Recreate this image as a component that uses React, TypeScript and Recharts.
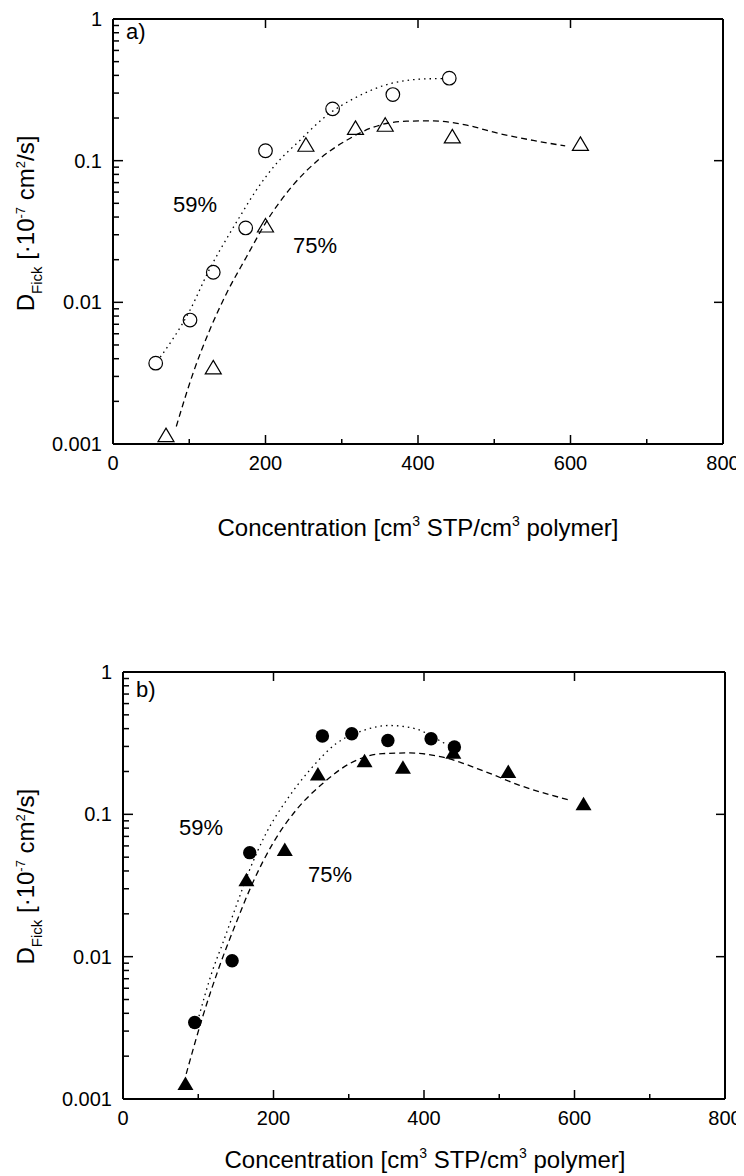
import React from 'react';
import { ComposedChart, Line, Scatter, XAxis, YAxis } from 'recharts';

const FONT = "Arial, 'Liberation Sans', Helvetica, sans-serif";

// ---------- axis ticks ----------
const xMajorTicks = [0, 200, 400, 600, 800];
const xAllTicks = [0, 100, 200, 300, 400, 500, 600, 700, 800];
const yMajorTicks = [0.001, 0.01, 0.1, 1];
const yAllTicks = [
  0.001, 0.002, 0.003, 0.004, 0.005, 0.006, 0.007, 0.008, 0.009,
  0.01, 0.02, 0.03, 0.04, 0.05, 0.06, 0.07, 0.08, 0.09,
  0.1, 0.2, 0.3, 0.4, 0.5, 0.6, 0.7, 0.8, 0.9, 1,
];
const yMajorLabels = ['0.001', '0.01', '0.1', '1'];
const xMajorLabels = ['0', '200', '400', '600', '800'];

// ---------- panel a (open symbols) ----------
const concA59 = [56, 101, 131.5, 174, 200, 288, 367, 441];
const diffA59 = [0.00372, 0.0075, 0.0163, 0.0335, 0.1175, 0.232, 0.293, 0.382];
const concA75 = [69.5, 131.5, 200, 253, 318, 357, 445, 613];
const diffA75 = [0.00116, 0.00349, 0.035, 0.13, 0.171, 0.18, 0.149, 0.132];

const fitConcA59 = [62, 100, 127, 153, 166, 188, 214, 245, 280, 315, 363, 402, 432];
const fitDiffA59 = [0.0041, 0.0086, 0.0173, 0.0306, 0.04, 0.062, 0.095, 0.139, 0.208, 0.273, 0.349, 0.376, 0.38];
const fitConcA75 = [83, 105, 127, 149, 175, 201, 236, 271, 306, 341, 385, 420, 464, 507, 551, 593];
const fitDiffA75 = [0.00133, 0.00316, 0.0064, 0.0116, 0.0209, 0.037, 0.067, 0.103, 0.139, 0.172, 0.19, 0.191, 0.178, 0.155, 0.139, 0.127];

// ---------- panel b (filled symbols) ----------
const concB59 = [95.3, 145, 168.4, 265, 304, 352, 409.4, 440.4];
const diffB59 = [0.00345, 0.00935, 0.0538, 0.355, 0.368, 0.33, 0.34, 0.297];
const concB75 = [83, 164, 215, 259, 321, 372, 439, 512, 612];
const diffB75 = [0.00129, 0.0348, 0.0568, 0.193, 0.239, 0.215, 0.274, 0.201, 0.119];

const fitConcB59 = [99, 119, 132.5, 150, 168, 190, 217, 248, 283, 319, 354, 389, 409, 425, 440];
const fitDiffB59 = [0.0035, 0.008, 0.0124, 0.0224, 0.0404, 0.0733, 0.125, 0.204, 0.313, 0.388, 0.421, 0.399, 0.358, 0.32, 0.295];
const fitConcB75 = [84, 106, 128, 150, 172, 199, 230, 265, 301, 345, 381, 425, 483, 527, 596];
const fitDiffB75 = [0.0015, 0.0038, 0.0085, 0.0171, 0.0327, 0.0623, 0.107, 0.164, 0.227, 0.267, 0.27, 0.252, 0.198, 0.16, 0.125];

const zip = (xs: number[], ys: number[]) => xs.map((x, i) => ({ x, y: ys[i] }));

// ---------- custom ticks ----------
const isMajorY = (v: number) => yMajorTicks.indexOf(v) >= 0;
const isMajorX = (v: number) => xMajorTicks.indexOf(v) >= 0;

const LeftTick = (p: any) => {
  const v = p.payload.value;
  const major = isMajorY(v);
  return (
    <g>
      <line x1={p.x} y1={p.y} x2={p.x + (major ? 10 : 6)} y2={p.y} stroke="#000" strokeWidth={1.5} />
      {major && (
        <text x={p.x - 11} y={p.y} dy="0.355em" textAnchor="end" fontSize={20} fontFamily={FONT} fill="#000">
          {yMajorLabels[yMajorTicks.indexOf(v)]}
        </text>
      )}
    </g>
  );
};
const RightTick = (p: any) => (
  <line x1={p.x} y1={p.y} x2={p.x - 9} y2={p.y} stroke="#000" strokeWidth={1.5} />
);
const BottomTick = (p: any) => {
  const v = p.payload.value;
  const major = isMajorX(v);
  return (
    <g>
      <line x1={p.x} y1={p.y} x2={p.x} y2={p.y - (major ? 9 : 5)} stroke="#000" strokeWidth={1.5} />
      {major && (
        <text x={p.x} y={p.y + 26} textAnchor="middle" fontSize={20} fontFamily={FONT} fill="#000">
          {xMajorLabels[xMajorTicks.indexOf(v)]}
        </text>
      )}
    </g>
  );
};
const TopTick = (p: any) => (
  <line x1={p.x} y1={p.y} x2={p.x} y2={p.y + 9} stroke="#000" strokeWidth={1.5} />
);

// ---------- markers ----------
const OpenCircle = (p: any) => (
  <circle cx={p.cx} cy={p.cy} r={6.8} fill="none" stroke="#000" strokeWidth={1.2} />
);
const FilledCircle = (p: any) => <circle cx={p.cx} cy={p.cy} r={6.7} fill="#000" />;
const triPts = (cx: number, cy: number) => {
  const w = 16;
  const h = 13.5;
  return `${cx},${cy - h / 2} ${cx + w / 2},${cy + h / 2} ${cx - w / 2},${cy + h / 2}`;
};
const OpenTriangle = (p: any) => (
  <polygon points={triPts(p.cx, p.cy)} fill="none" stroke="#000" strokeWidth={1.2} strokeLinejoin="miter" />
);
const FilledTriangle = (p: any) => <polygon points={triPts(p.cx, p.cy)} fill="#000" />;

type PanelProps = {
  margin: { top: number; right: number; bottom: number; left: number };
  pts59: { x: number; y: number }[];
  pts75: { x: number; y: number }[];
  fit59: { x: number; y: number }[];
  fit75: { x: number; y: number }[];
  shape59: any;
  shape75: any;
};

const AX = { stroke: '#000', strokeWidth: 2 };

const Panel = ({ margin, pts59, pts75, fit59, fit75, shape59, shape75 }: PanelProps) => (
  <ComposedChart width={736} height={560} margin={margin}>
    <XAxis
      xAxisId="b"
      dataKey="x"
      type="number"
      domain={[0, 800]}
      ticks={xAllTicks}
      interval={0}
      allowDataOverflow
      height={40}
      tickSize={0}
      tickMargin={0}
      axisLine={AX}
      tickLine={false}
      tick={<BottomTick />}
    />
    <XAxis
      xAxisId="t"
      orientation="top"
      dataKey="x"
      type="number"
      domain={[0, 800]}
      ticks={xMajorTicks}
      interval={0}
      allowDataOverflow
      height={10}
      tickSize={0}
      tickMargin={0}
      axisLine={AX}
      tickLine={false}
      tick={<TopTick />}
    />
    <YAxis
      yAxisId="l"
      dataKey="y"
      type="number"
      scale="log"
      domain={[0.001, 1]}
      ticks={yAllTicks}
      interval={0}
      allowDataOverflow
      width={60}
      tickSize={0}
      tickMargin={0}
      axisLine={AX}
      tickLine={false}
      tick={<LeftTick />}
    />
    <YAxis
      yAxisId="r"
      orientation="right"
      dataKey="y"
      type="number"
      scale="log"
      domain={[0.001, 1]}
      ticks={yMajorTicks}
      interval={0}
      allowDataOverflow
      width={10}
      tickSize={0}
      tickMargin={0}
      axisLine={AX}
      tickLine={false}
      tick={<RightTick />}
    />
    <Line
      xAxisId="b"
      yAxisId="l"
      data={fit59}
      dataKey="y"
      type="monotone"
      stroke="#000"
      strokeWidth={1.3}
      strokeDasharray="1.5 4"
      dot={false}
      activeDot={false}
      isAnimationActive={false}
    />
    <Line
      xAxisId="b"
      yAxisId="l"
      data={fit75}
      dataKey="y"
      type="monotone"
      stroke="#000"
      strokeWidth={1.3}
      strokeDasharray="6 4"
      dot={false}
      activeDot={false}
      isAnimationActive={false}
    />
    <Scatter xAxisId="b" yAxisId="l" data={pts59} dataKey="y" shape={shape59} isAnimationActive={false} />
    <Scatter xAxisId="b" yAxisId="l" data={pts75} dataKey="y" shape={shape75} isAnimationActive={false} />
    <Scatter xAxisId="t" yAxisId="r" data={pts59} dataKey="y" shape={() => null} isAnimationActive={false} />
  </ComposedChart>
);

const YTitle = ({ cx, cy }: { cx: number; cy: number }) => (
  <text transform={`translate(${cx},${cy}) rotate(-90)`} textAnchor="middle" fontSize={24} fontFamily={FONT} fill="#000">
    D
    <tspan dy={8} fontSize={15}>Fick</tspan>
    <tspan dy={-8}> [·10</tspan>
    <tspan dy={-9} fontSize={13}>-7</tspan>
    <tspan dy={9}> cm</tspan>
    <tspan dy={-9} fontSize={13}>2</tspan>
    <tspan dy={9}>/s]</tspan>
  </text>
);

const XTitle = ({ cx, y }: { cx: number; y: number }) => (
  <text x={cx} y={y} textAnchor="middle" fontSize={24} fontFamily={FONT} fill="#000">
    Concentration [cm
    <tspan dy={-10} fontSize={14}>3</tspan>
    <tspan dy={10}> STP/cm</tspan>
    <tspan dy={-10} fontSize={14}>3</tspan>
    <tspan dy={10}> polymer]</tspan>
  </text>
);

const T = (p: { x: number; y: number; s: string }) => (
  <text x={p.x} y={p.y} fontSize={22} fontFamily={FONT} fill="#000">
    {p.s}
  </text>
);

export default function App() {
  return (
    <div style={{ position: 'relative', width: 736, height: 1168, background: '#fff' }}>
      <div style={{ position: 'absolute', left: 0, top: 0 }}>
        <Panel
          margin={{ top: 1, right: 11, bottom: 84, left: 45 }}
          pts59={zip(concA59, diffA59)}
          pts75={zip(concA75, diffA75)}
          fit59={zip(fitConcA59, fitDiffA59)}
          fit75={zip(fitConcA75, fitDiffA75)}
          shape59={OpenCircle}
          shape75={OpenTriangle}
        />
      </div>
      <div style={{ position: 'absolute', left: 0, top: 600 }}>
        <Panel
          margin={{ top: 54, right: 9, bottom: 29, left: 55 }}
          pts59={zip(concB59, diffB59)}
          pts75={zip(concB75, diffB75)}
          fit59={zip(fitConcB59, fitDiffB59)}
          fit75={zip(fitConcB75, fitDiffB75)}
          shape59={FilledCircle}
          shape75={FilledTriangle}
        />
      </div>
      <svg
        width={736}
        height={1168}
        style={{ position: 'absolute', left: 0, top: 0, pointerEvents: 'none' }}
      >
        <g transform="translate(-8,-8)">
          <YTitle cx={34} cy={223.5} />
          <XTitle cx={418} y={536} />
          <T x={126} y={39} s="a)" />
          <T x={173} y={211.5} s="59%" />
          <T x={293} y={252.5} s="75%" />

          <YTitle cx={34} cy={876.7} />
          <XTitle cx={425} y={1168} />
          <T x={136} y={697} s="b)" />
          <T x={179} y={835} s="59%" />
          <T x={308} y={881.5} s="75%" />
        </g>
      </svg>
    </div>
  );
}
